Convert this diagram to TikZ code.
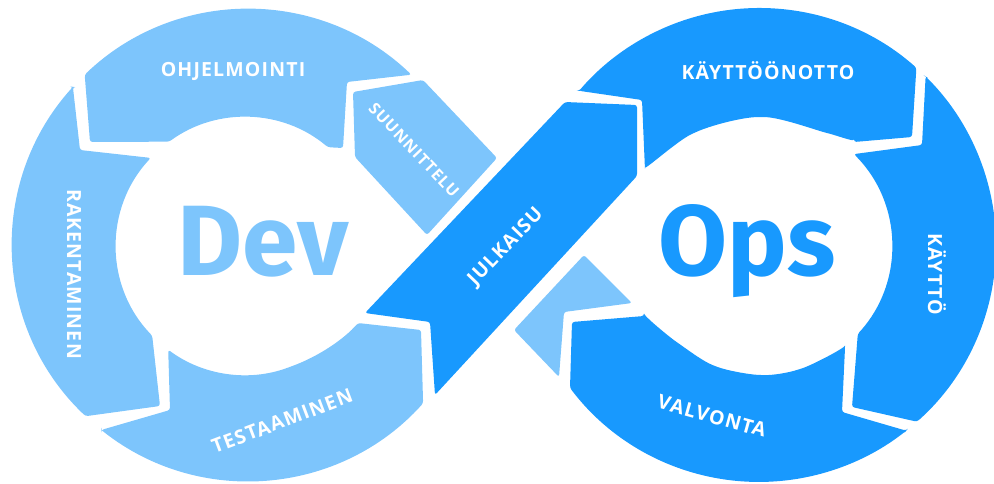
\documentclass[tikz,border=0pt]{standalone}
\usepackage{fontspec}
\setmainfont{Open Sans}
\newfontfamily\labfont[LetterSpace=6]{Open Sans}
\newfontfamily\bigfont{Fira Sans}
\definecolor{lightb}{RGB}{125,197,252}
\definecolor{darkb}{RGB}{24,153,254}
\begin{document}
\begin{tikzpicture}[x=1pt,y=1pt,yscale=-1,
  lightpiece/.style={fill=lightb, rounded corners=2.5pt},
  darkpiece/.style={fill=darkb, rounded corners=2.5pt},
  lab/.style={text=white, inner sep=0pt, font=\labfont\bfseries\fontsize{19.5}{20}\selectfont},
  smalllab/.style={text=white, inner sep=0pt, font=\labfont\bfseries\fontsize{16}{16}\selectfont},
  bigword/.style={inner sep=0pt, anchor=base, font=\bigfont\bfseries\fontsize{100}{100}\selectfont}]
\useasboundingbox (0,0) rectangle (994,483);

% ---- left loop (light) ----
% OHJELMOINTI
\path[lightpiece] (90,142) -- (84.7,74.7) arc[start angle=226.2, end angle=313.8, radius=236]
  -- (347,82) -- (343,148) -- (327.9,147.2) arc[start angle=310, end angle=234, radius=129] -- cycle;
% RAKENTAMINEN
\path[lightpiece] (72.9,86.8) -- (80,150) -- (150.8,157.9) arc[start angle=223.1, end angle=136, radius=129]
  -- (160,406) -- (85.6,416.2) arc[start angle=133.5, end angle=222.1, radius=236] -- cycle;
% TESTAAMINEN
\path[lightpiece] (101.4,429.9) -- (170,410) -- (168.2,349.7) arc[start angle=126.5, end angle=70, radius=129]
  .. controls (320,356) and (345,338) .. (358,323) -- (421,330) -- (423.1,403.3)
  arc[start angle=42.1, end angle=128.4, radius=236] -- cycle;
% SUUNNITTELU
\path[lightpiece] (353,92) -- (423,80) -- (497,158) -- (427,235) -- (355,157) -- cycle;
% light piece under the crossing
\path[lightpiece] (584,255) -- (632,303) -- (564,312) -- (559,377) -- (514,330) -- cycle;

% ---- crossing band and right loop (dark) ----
% JULKAISU
\path[darkpiece] (365,313) -- (430,322) -- (435,395) -- (637,176) -- (637,105) -- (565,102) -- cycle;
% KAYTTOONOTTO
\path[darkpiece] (579,90.8) -- (642,100) -- (645,170)
  -- plot[smooth] coordinates {(645,170) (694,133) (761,117) (827,133) (854,142)}
  -- (912,137) -- (916.4,67.8) arc[start angle=-48.4, end angle=-139.4, radius=237] -- cycle;
% KAYTTO
\path[darkpiece] (925.6,76.5) -- (922,145) -- (853.9,154.1) arc[start angle=-45, end angle=42.5, radius=130]
  -- (852,407) -- (917,421.7) arc[start angle=48.2, end angle=-45.3, radius=237] -- cycle;
% VALVONTA
\path[darkpiece] (906.2,430.7) -- (842,412) -- (845,348)
  -- plot[smooth] coordinates {(845,348) (800,369) (761,375) (715,366) (678,343) (644,316)}
  -- (572,322) -- (570,387.9) arc[start angle=142.9, end angle=51.6, radius=237] -- cycle;

% ---- texts ----
\node[bigword, text=lightb] (dev) at (263,275) {Dev};
\node[bigword, text=darkb] (ops) at (747,275) {Ops};

\node[lab] (ohj) at (233,71) {OHJELMOINTI};
\node[smalllab, rotate=-46.5] (suu) at (414,150) {SUUNNITTELU};
\node[lab, rotate=-90] (rak) at (74,274) {RAKENTAMINEN};
\node[lab, rotate=20.7] (tes) at (282,421) {TESTAAMINEN};
\node[lab, rotate=46] (jul) at (506,247) {JULKAISU};
\node[lab] (kay) at (768,71) {KÄYTTÖÖNOTTO};
\node[lab, rotate=-90] (kay2) at (937,274) {KÄYTTÖ};
\node[lab, rotate=-15.4] (val) at (712,416) {VALVONTA};
\end{tikzpicture}
\end{document}
